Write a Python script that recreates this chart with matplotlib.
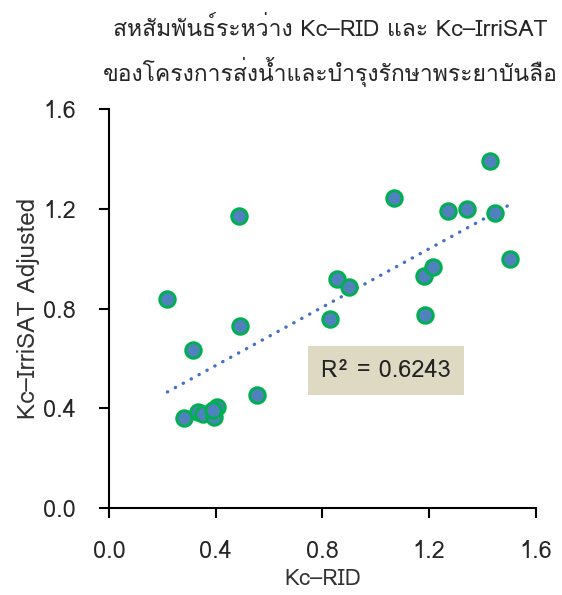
import numpy as np
import matplotlib
matplotlib.use("Agg")
import matplotlib.pyplot as plt
import matplotlib.font_manager as fm
from matplotlib.ft2font import FT2Font

# data
kc_rid = [0.219, 0.316, 0.281, 0.335, 0.352, 0.394, 0.404, 0.39, 0.490, 0.488,
          0.554, 0.830, 0.854, 0.899, 1.068, 1.182, 1.215, 1.184, 1.270, 1.343,
          1.430, 1.448, 1.503]
kc_irrisat = [0.84, 0.636, 0.36, 0.384, 0.376, 0.366, 0.406, 0.393, 0.732, 1.173,
              0.453, 0.758, 0.92, 0.886, 1.244, 0.930, 0.966, 0.776, 1.193, 1.198,
              1.393, 1.182, 0.997]
ticks = [0.0, 0.4, 0.8, 1.2, 1.6]
title = "สหสัมพันธ์ระหว่าง Kc–RID และ Kc–IrriSAT\nของโครงการส่งน้ำและบำรุงรักษาพระยาบันลือ"
r2_label = "R² = 0.6243"

# find a font with Thai glyphs
thai_font = None
for f in fm.fontManager.ttflist:
    try:
        if 0x0E2A in FT2Font(f.fname).get_charmap():
            thai_font = f.name
            break
    except Exception:
        pass
fams = ([thai_font] if thai_font else []) + ["DejaVu Sans"]
plt.rcParams["font.family"] = fams

fig = plt.figure(figsize=(5.62, 5.95), dpi=100)
ax = fig.add_axes([0.194, 0.1457, 0.759, 0.6711])

# trendline
coef = np.polyfit(kc_rid, kc_irrisat, 1)
xs = np.array([min(kc_rid), max(kc_rid)])
ax.plot(xs, np.polyval(coef, xs), color="#4472C4", lw=2.4,
        linestyle=(0, (0.1, 2.6)), dash_capstyle="round", zorder=2)

ax.scatter(kc_rid, kc_irrisat, s=125, facecolor="#4F81BD", edgecolor="#00B050",
           linewidth=2.1, zorder=3)

ax.set_xlim(0, 1.6)
ax.set_ylim(0, 1.6)
ax.set_xticks(ticks)
ax.set_yticks(ticks)
ax.set_xticklabels([f"{t:.1f}" for t in ticks])
ax.set_yticklabels([f"{t:.1f}" for t in ticks])
for s in ["top", "right"]:
    ax.spines[s].set_visible(False)
for s in ["left", "bottom"]:
    ax.spines[s].set_linewidth(1.5)
ax.tick_params(direction="out", length=7, width=1.5, labelsize=17,
               colors="black", labelcolor="#262626")
ax.tick_params(axis="x", pad=16)
ax.tick_params(axis="y", pad=17)

ax.set_xlabel("Kc–RID", fontsize=16, color="#333333", labelpad=4)
ax.set_ylabel("Kc–IrriSAT Adjusted", fontsize=17.5, color="#333333", labelpad=2)

ax.text(1.04, 0.553, r2_label, fontsize=17, color="#222222",
        ha="center", va="center",
        bbox=dict(boxstyle="square,pad=0.55", facecolor="#DDD9C3", edgecolor="none"))

fig.text(0.587, 0.913, title, fontsize=16.5, color="#262626", ha="center",
         va="center", linespacing=1.65)

fig.savefig("out.png", dpi=100)
